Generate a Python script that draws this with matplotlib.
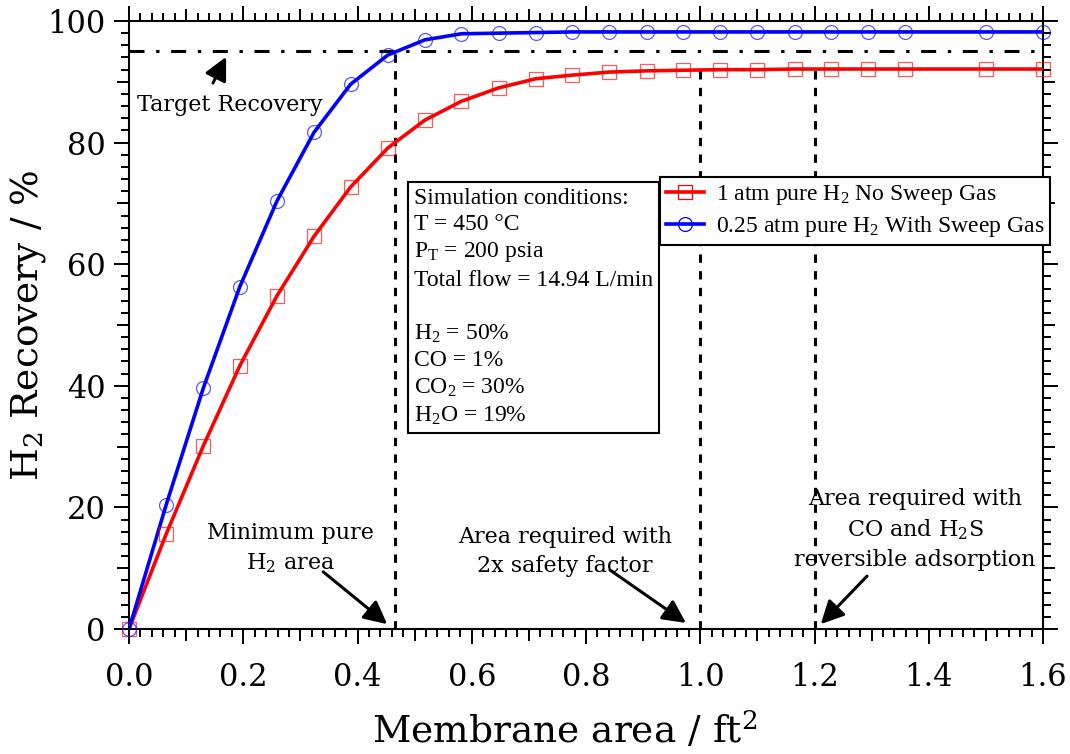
import matplotlib
matplotlib.use("Agg")
import matplotlib.pyplot as plt
from matplotlib.ticker import MultipleLocator

plt.rcParams["font.family"] = ["DejaVu Serif"]
plt.rcParams["lines.scale_dashes"] = False

# Membrane area (ft^2) and H2 recovery (%)
area = [0.0, 0.065, 0.13, 0.194, 0.259, 0.324, 0.388, 0.453, 0.518, 0.582,
        0.647, 0.712, 0.776, 0.841, 0.906, 0.970, 1.035, 1.100, 1.165, 1.229,
        1.294, 1.359, 1.500, 1.600]
recovery_no_sweep = [0.0, 15.6, 30.1, 43.3, 54.8, 64.6, 72.7, 79.1, 83.7, 86.8,
                     89.0, 90.5, 91.1, 91.6, 91.8, 91.9, 92.0, 92.0, 92.1, 92.1,
                     92.1, 92.1, 92.1, 92.1]
recovery_sweep = [0.0, 20.4, 39.6, 56.3, 70.4, 81.7, 89.6, 94.4, 96.9, 97.9,
                  98.0, 98.1, 98.2, 98.2, 98.2, 98.2, 98.2, 98.2, 98.2, 98.2,
                  98.2, 98.2, 98.2, 98.2]

series_labels = ["1 atm pure $\\mathregular{H_2}$ No Sweep Gas",
                 "0.25 atm pure $\\mathregular{H_2}$ With Sweep Gas"]

target_recovery = 95.0
guide_area = [0.465, 1.0, 1.2]
guide_top = [95.0, 92.1, 92.1]

x_ticks = [0.0, 0.2, 0.4, 0.6, 0.8, 1.0, 1.2, 1.4, 1.6]
y_ticks = [0, 20, 40, 60, 80, 100]

conditions = ("Simulation conditions:\n"
              "T = 450 \u00b0C\n"
              "$\\mathregular{P_T}$ = 200 psia\n"
              "Total flow = 14.94 L/min\n"
              "\n"
              "$\\mathregular{H_2}$ = 50%\n"
              "CO = 1%\n"
              "$\\mathregular{CO_2}$ = 30%\n"
              "$\\mathregular{H_2O}$ = 19%")

fig = plt.figure(figsize=(10.70, 7.54), dpi=100)
ax = fig.add_axes([129 / 1070, 1 - 629 / 754, 914 / 1070, 608 / 754])

red = "#ff0000"
blue = "#0000ff"

ax.plot(area, recovery_no_sweep, color=red, lw=2.6, zorder=3)
ax.plot(area, recovery_sweep, color=blue, lw=2.6, zorder=3)
ax.plot(area, recovery_no_sweep, ls="none", marker="s", ms=9.5, mfc="none",
        mec=(1, 0, 0, 0.65), mew=0.9, zorder=4, clip_on=False)
ax.plot(area, recovery_sweep, ls="none", marker="o", ms=10, mfc="none",
        mec=(0, 0, 1, 0.65), mew=0.9, zorder=4, clip_on=False)

# legend proxies combining line and marker
h1, = ax.plot([], [], color=red, lw=2.6, marker="s", ms=9.5, mfc="none",
              mec=red, mew=0.9)
h2, = ax.plot([], [], color=blue, lw=2.6, marker="o", ms=10, mfc="none",
              mec=blue, mew=0.9)

# target recovery line and area guides
ax.axhline(target_recovery, color="k", lw=2.2, ls=(0, (10.8, 8.4, 2.4, 8.4)),
           zorder=2)
ax.vlines(guide_area, 0, guide_top, colors="k", lw=2.2,
          linestyles=[(0, (6.0, 6.0))], zorder=2)

ax.set_xlim(0, 1.6)
ax.set_ylim(0, 100)
ax.set_xticks(x_ticks)
ax.set_xticklabels([f"{v:.1f}" for v in x_ticks])
ax.set_yticks(y_ticks)
ax.set_yticklabels([str(v) for v in y_ticks])
ax.xaxis.set_minor_locator(MultipleLocator(0.02))
ax.yaxis.set_minor_locator(MultipleLocator(2))

for s in ax.spines.values():
    s.set_linewidth(1.5)
ax.tick_params(which="both", direction="out", top=True, right=True, width=1.4)
ax.tick_params(which="major", length=11, labelsize=22)
ax.tick_params(axis="x", which="major", pad=13)
ax.tick_params(axis="y", which="major", pad=6)
ax.tick_params(which="minor", length=6)

# medium-length ticks halfway between labelled ticks
for axis, step in ((ax.xaxis, 0.1), (ax.yaxis, 10)):
    locs = axis.get_minorticklocs()
    ticks = axis.get_minor_ticks(len(locs))
    for loc, t in zip(locs, ticks):
        if abs(loc / step - round(loc / step)) < 1e-6:
            t.tick1line.set_markersize(8.5)
            t.tick2line.set_markersize(8.5)

ax.set_xlabel("Membrane area / ft$\\mathregular{^2}$", fontsize=27)
ax.set_ylabel("$\\mathregular{H_2}$ Recovery / %", fontsize=27)
ax.xaxis.set_label_coords(0.477, -0.133)
ax.yaxis.set_label_coords(-0.0885, 0.5)

# annotations
ann_fs = 16
ax.text(0.177, 86.2, "Target Recovery", fontsize=ann_fs, ha="center", va="center")
ax.text(0.282, 13.2, "Minimum pure\n$\\mathregular{H_2}$ area", fontsize=ann_fs,
        ha="center", va="center", linespacing=1.4)
ax.text(0.763, 12.7, "Area required with\n2x safety factor", fontsize=ann_fs,
        ha="center", va="center", linespacing=1.4)
ax.text(1.376, 16.4, "Area required with\nCO and $\\mathregular{H_2S}$\nreversible adsorption",
        fontsize=ann_fs, ha="center", va="center", linespacing=1.4)

arrow = dict(arrowstyle="-|>,head_length=0.7,head_width=0.35", lw=2.2,
             color="k", mutation_scale=20, shrinkA=0, shrinkB=0)
ax.annotate("", xy=(0.170, 94.1), xytext=(0.147, 89.8), arrowprops=arrow)
ax.annotate("", xy=(0.452, 0.8), xytext=(0.340, 9.4), arrowprops=arrow)
ax.annotate("", xy=(0.975, 1.0), xytext=(0.842, 9.7), arrowprops=arrow)
ax.annotate("", xy=(1.211, 0.8), xytext=(1.292, 8.7), arrowprops=arrow)

ax.text(0.499, 72.6, conditions, family="Liberation Serif", fontsize=17,
        ha="left", va="top", linespacing=1.33, zorder=5,
        bbox=dict(boxstyle="square,pad=0.25", fc="white", ec="k", lw=1.5))

leg = ax.legend([h1, h2], series_labels, loc="upper right",
                bbox_to_anchor=(1.0077, 0.743), borderaxespad=0,
                prop={"family": "Liberation Serif", "size": 17},
                fancybox=False, framealpha=1, edgecolor="k", numpoints=1,
                handlelength=1.6, handletextpad=0.5, labelspacing=0.3,
                borderpad=0.25)
leg.get_frame().set_linewidth(1.5)
leg.set_zorder(6)

fig.savefig("out.png", dpi=100)
